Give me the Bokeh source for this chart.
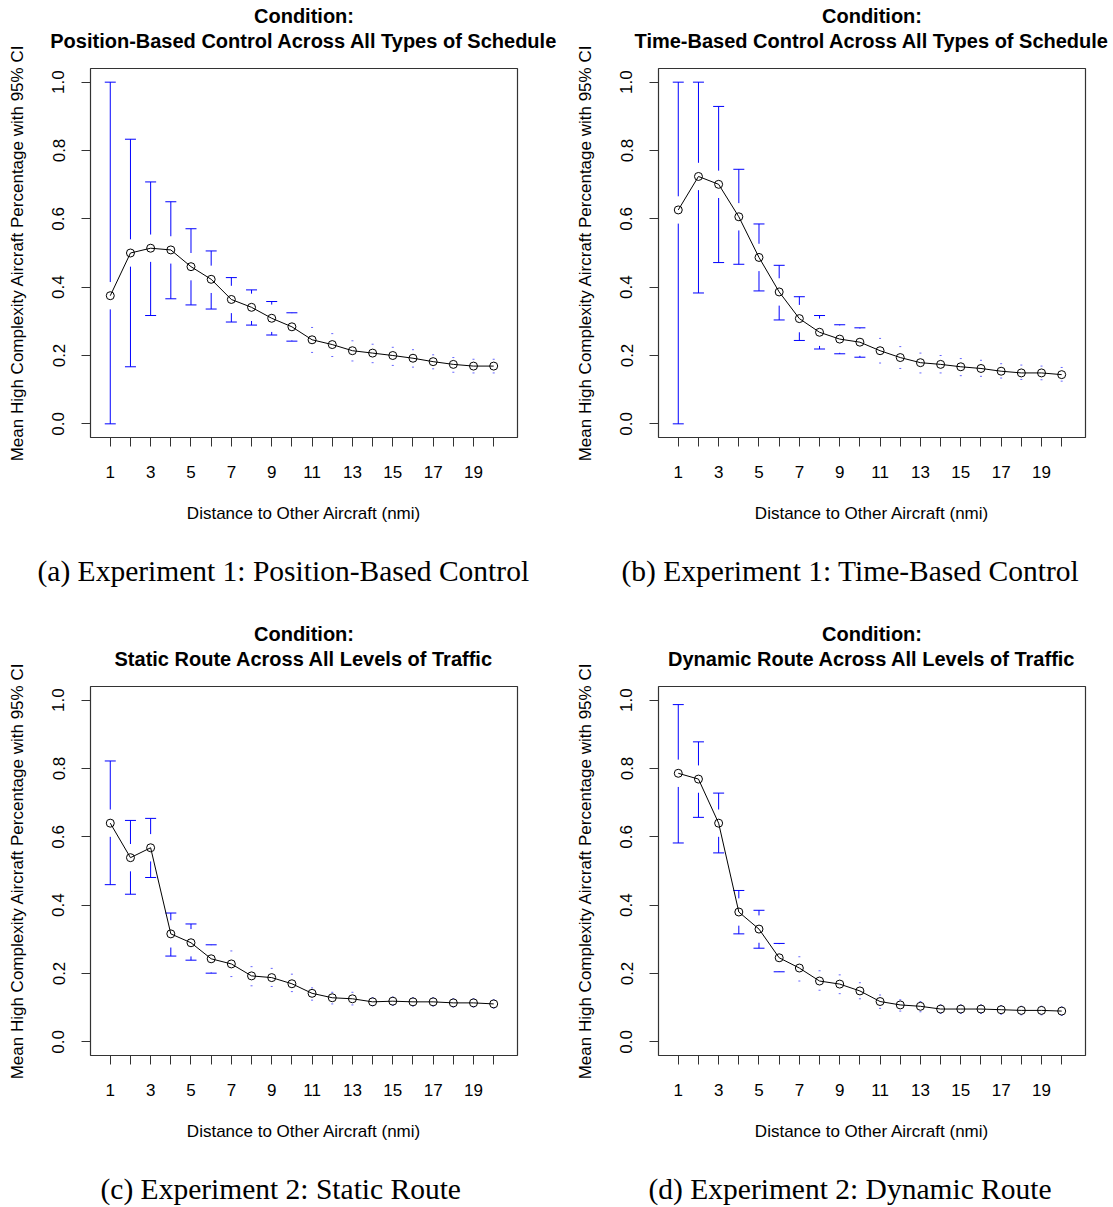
import numpy as np
from bokeh.embed import file_html
from bokeh.layouts import column, row
from bokeh.models import FixedTicker, Title
from bokeh.plotting import figure
from bokeh.resources import INLINE

# distance to other aircraft (nmi)
distance = list(range(1, 21))

# (a) Experiment 1, position-based control
mean_pos = [0.375, 0.500, 0.514, 0.509, 0.460, 0.423, 0.364, 0.341, 0.309, 0.284,
            0.246, 0.232, 0.214, 0.207, 0.200, 0.192, 0.182, 0.174, 0.169, 0.169]
upper_pos = [1.000, 0.833, 0.708, 0.650, 0.571, 0.506, 0.428, 0.392, 0.358, 0.325,
             0.282, 0.264, 0.243, 0.233, 0.224, 0.217, 0.202, 0.194, 0.189, 0.189]
lower_pos = [0.000, 0.167, 0.317, 0.366, 0.348, 0.336, 0.298, 0.289, 0.260, 0.242,
             0.209, 0.197, 0.184, 0.179, 0.171, 0.166, 0.161, 0.151, 0.149, 0.149]

# (b) Experiment 1, time-based control
mean_time = [0.626, 0.724, 0.701, 0.606, 0.487, 0.386, 0.308, 0.268, 0.248, 0.239,
             0.214, 0.194, 0.179, 0.174, 0.167, 0.162, 0.154, 0.149, 0.149, 0.144]
upper_time = [1.000, 1.000, 0.929, 0.745, 0.585, 0.464, 0.372, 0.317, 0.290, 0.281,
              0.250, 0.226, 0.207, 0.200, 0.191, 0.186, 0.176, 0.172, 0.169, 0.165]
lower_time = [0.000, 0.383, 0.472, 0.467, 0.389, 0.304, 0.244, 0.219, 0.205, 0.195,
              0.178, 0.162, 0.149, 0.149, 0.141, 0.139, 0.134, 0.130, 0.129, 0.125]

# (c) Experiment 2, static route
mean_static = [0.640, 0.539, 0.568, 0.316, 0.290, 0.243, 0.228, 0.193, 0.188, 0.170,
               0.142, 0.129, 0.126, 0.117, 0.119, 0.117, 0.117, 0.114, 0.114, 0.111]
upper_static = [0.822, 0.648, 0.654, 0.377, 0.345, 0.284, 0.266, 0.220, 0.215, 0.198,
                0.158, 0.145, 0.145, 0.129, 0.131, 0.129, 0.129, 0.126, 0.126, 0.123]
lower_static = [0.460, 0.432, 0.481, 0.251, 0.239, 0.201, 0.191, 0.164, 0.162, 0.147,
                0.122, 0.111, 0.108, 0.106, 0.107, 0.105, 0.105, 0.102, 0.102, 0.099]

# (d) Experiment 2, dynamic route
mean_dyn = [0.786, 0.769, 0.640, 0.380, 0.330, 0.246, 0.216, 0.178, 0.169, 0.149,
            0.118, 0.108, 0.104, 0.096, 0.096, 0.096, 0.094, 0.092, 0.092, 0.090]
upper_dyn = [0.987, 0.878, 0.728, 0.443, 0.385, 0.288, 0.249, 0.208, 0.196, 0.173,
             0.137, 0.123, 0.118, 0.108, 0.108, 0.108, 0.106, 0.104, 0.104, 0.102]
lower_dyn = [0.582, 0.657, 0.553, 0.316, 0.274, 0.205, 0.178, 0.151, 0.141, 0.126,
             0.098, 0.090, 0.088, 0.083, 0.083, 0.083, 0.081, 0.079, 0.079, 0.077]

x_ticks = list(range(1, 21))
x_tick_labels = {t: (str(t) if t % 2 == 1 else "") for t in x_ticks}
y_ticks = [0.0, 0.2, 0.4, 0.6, 0.8, 1.0]
y_tick_labels = {t: f"{t:.1f}" for t in y_ticks}

SANS = "Liberation Sans"
SERIF = "Liberation Serif"
BLUE = "#0000ff"
GAP = 0.04


def spacer(gap):
    # blank title used only to push the real titles away from the frame
    return Title(text=" ", text_font_size="1px", standoff=gap)


def panel(condition, mean, lower, upper, caption, cap_offset, width, height, right):
    p = figure(width=width, height=height, x_range=(0.02, 21.18), y_range=(-0.04, 1.04),
               output_backend="svg", toolbar_location=None,
               min_border_left=90, min_border_right=right, min_border_top=68,
               min_border_bottom=height - 68 - 369)
    p.xgrid.visible = False
    p.ygrid.visible = False
    p.outline_line_color = "#333333"
    p.outline_line_width = 1.2

    x = np.array(distance, dtype=float)
    m = np.array(mean)
    lo = np.array(lower)
    up = np.array(upper)

    # upper and lower halves of the CI, with a gap round the point
    long_up = (up - m) >= GAP
    long_lo = (m - lo) >= GAP
    p.segment(x0=x[long_up], y0=m[long_up] + GAP, x1=x[long_up], y1=up[long_up],
              line_color=BLUE, line_width=1)
    p.segment(x0=x[long_lo], y0=m[long_lo] - GAP, x1=x[long_lo], y1=lo[long_lo],
              line_color=BLUE, line_width=1)
    p.scatter(x[long_up], up[long_up], marker="dash", size=11, line_color=BLUE, line_width=1)
    p.scatter(x[long_lo], lo[long_lo], marker="dash", size=11, line_color=BLUE, line_width=1)
    p.scatter(x[~long_up], up[~long_up], marker="dash", size=2, line_color=BLUE,
              line_alpha=0.6, line_width=1)
    p.scatter(x[~long_lo], lo[~long_lo], marker="dash", size=2, line_color=BLUE,
              line_alpha=0.6, line_width=1)

    p.line(x, m, line_color="black", line_width=1)
    p.scatter(x, m, marker="circle", size=8, fill_color=None, line_color="black", line_width=1)

    p.xaxis.ticker = FixedTicker(ticks=x_ticks)
    p.xaxis.major_label_overrides = x_tick_labels
    p.yaxis.ticker = FixedTicker(ticks=y_ticks)
    p.yaxis.major_label_overrides = y_tick_labels
    p.yaxis.major_label_orientation = "vertical"
    for ax in (p.xaxis, p.yaxis):
        ax.axis_line_color = None
        ax.minor_tick_line_color = None
        ax.major_tick_in = 0
        ax.major_tick_out = 9
        ax.major_tick_line_color = "#333333"
        ax.major_label_text_font = SANS
        ax.major_label_text_font_size = "17px"
        ax.major_label_text_color = "black"
        ax.axis_label_text_font = SANS
        ax.axis_label_text_font_size = "17px"
        ax.axis_label_text_font_style = "normal"
        ax.axis_label_text_color = "black"
    p.xaxis.axis_label = "Distance to Other Aircraft (nmi)"
    p.yaxis.axis_label = "Mean High Complexity Aircraft Percentage with 95% CI"
    p.xaxis.major_label_standoff = 19
    p.xaxis.axis_label_standoff = 23
    p.yaxis.major_label_standoff = 17
    p.yaxis.axis_label_standoff = 23

    # above: stacked outward from the frame
    p.add_layout(spacer(14), "above")
    for text, standoff in ((condition, 0), ("Condition:", 2)):
        p.add_layout(Title(text=text, align="center", text_font=SANS, text_font_size="20px",
                           text_font_style="bold", text_color="black", standoff=standoff),
                     "above")
    # below: after the x axis
    p.add_layout(spacer(24), "below")
    p.add_layout(Title(text=caption, align="left", offset=cap_offset, text_font=SERIF,
                       text_font_size="29.5px", text_font_style="normal", text_color="black",
                       standoff=0), "below")
    return p


pa = panel("Position-Based Control Across All Types of Schedule", mean_pos, lower_pos, upper_pos,
           "(a) Experiment 1: Position-Based Control", -53, 568, 618, 51)
pb = panel("Time-Based Control Across All Types of Schedule", mean_time, lower_time, upper_time,
           "(b) Experiment 1: Time-Based Control", -37, 540, 618, 23)
pc = panel("Static Route Across All Levels of Traffic", mean_static, lower_static, upper_static,
           "(c) Experiment 2: Static Route", 10, 568, 588, 51)
pd = panel("Dynamic Route Across All Levels of Traffic", mean_dyn, lower_dyn, upper_dyn,
           "(d) Experiment 2: Dynamic Route", -10, 540, 588, 23)

p = column(row(pa, pb), row(pc, pd))

open("out.html", "w").write(file_html(p, INLINE))
